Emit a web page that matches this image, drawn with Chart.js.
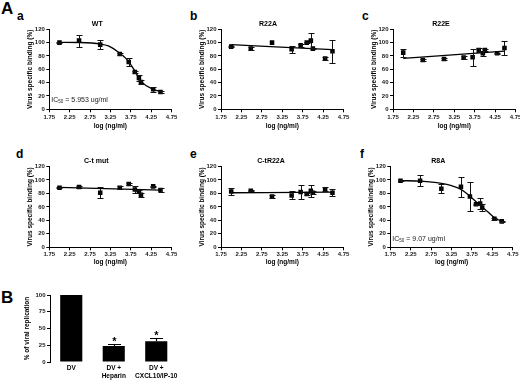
<!DOCTYPE html>
<html>
<head>
<meta charset="utf-8">
<title>Virus specific binding</title>
<script src="https://cdn.jsdelivr.net/npm/chart.js"></script>
<style>
	html, body { margin: 0; padding: 0; background: #fff; }
	body { position: relative; width: 520px; height: 381px; overflow: hidden; font-family: "Liberation Sans", Arial, sans-serif; }
	canvas { position: absolute; }
	.tag { position: absolute; font-weight: bold; line-height: 1; color: #000; }
</style>
</head>
<body>
<div class="tag" style="left:1px;top:0px;font-size:17px;">A</div>
<div class="tag" style="left:17px;top:10px;font-size:12px;">a</div>
<div class="tag" style="left:190px;top:10px;font-size:12px;">b</div>
<div class="tag" style="left:362px;top:10px;font-size:12px;">c</div>
<div class="tag" style="left:16px;top:148px;font-size:12px;">d</div>
<div class="tag" style="left:190px;top:148px;font-size:12px;">e</div>
<div class="tag" style="left:360px;top:148px;font-size:12px;">f</div>
<div class="tag" style="left:1px;top:289px;font-size:17px;">B</div>
<script>
var FONT = '"Liberation Sans", Arial, Helvetica, sans-serif';

// axes shared by the binding panels a-f
var logTicks = [1.75, 2.25, 2.75, 3.25, 3.75, 4.25, 4.75];
var bindingTicks = [0, 20, 40, 60, 80, 100, 120];
var logConc = [2.0, 2.48, 3.0, 3.48, 3.7, 3.85, 3.95, 4.0, 4.3, 4.48];

// a - WT
var wtBinding = [100, 103, 97, 83, 71, 56, 47, 41, 30, 26];
var wtSem     = [1, 9, 6.5, 1, 6.5, 1.5, 4, 3, 3.5, 1];
var wtFitX    = [2.0, 2.5, 3.0, 3.2, 3.48, 3.68, 3.86, 4.01, 4.3, 4.48];
var wtFitY    = [100.5, 100.2, 98, 95, 84, 73, 56.5, 41.5, 30, 26.5];
var wtIc50    = '5.953 ug/ml';

// b - R22A
var r22aBinding = [94, 91, 100, 90, 96, 100, 103, 91, 76, 87];
var r22aSem     = [1, 2, 0, 5, 2, 1, 11, 1, 2, 17];
var r22aFitX    = [2.0, 4.48];
var r22aFitY    = [97, 89.5];

// c - R22E
var r22eBinding = [85, 74, 75.5, 77.5, 78, 89, 84, 89, 84, 92];
var r22eSem     = [6, 1, 1, 2.5, 13, 2.5, 4, 1, 1, 10];
var r22eFitX    = [2.0, 4.48];
var r22eFitY    = [76.5, 87.3];

// d - C-t mut
var ctBinding = [88.5, 89.5, 81, 88.5, 94, 86, 82.5, 78, 90.5, 85];
var ctSem     = [1, 1, 8, 2, 1, 5, 2, 3, 1, 3];
var ctFitX    = [2.0, 4.48];
var ctFitY    = [89, 85];

// e - C-tR22A
var ctr22aBinding = [83, 84, 75.5, 77, 82, 79, 84, 81, 86, 81];
var ctr22aSem     = [5, 1, 2.5, 6, 11, 1.5, 9, 2, 3, 5];
var ctr22aFitX    = [2.0, 4.48];
var ctr22aFitY    = [81, 82];

// f - R8A
var r8aBinding = [99, 99, 87, 90, 75.5, 64, 65, 59, 42.5, 38.5];
var r8aSem     = [1, 8, 7, 15, 21, 1, 8, 5, 1.5, 1];
var r8aFitX    = [2.0, 2.5, 3.0, 3.25, 3.48, 3.7, 3.9, 4.15, 4.3, 4.48];
var r8aFitY    = [99, 98.3, 95, 91.5, 86, 76, 65, 52, 44, 38.5];
var r8aIc50    = '9.07 ug/ml';

// B - viral replication
var repCategories = ['DV', ['DV +', 'Heparin'], ['DV +', 'CXCL10/IP-10']];
var repValues = [100, 24, 31];
var repSem    = [0, 3.5, 5.5];
var repSignif = ['', '*', '*'];
var repTicks  = [0, 25, 50, 75, 100];


// error bars (and optional marks above them) read from dataset.errors
var errorBarsPlugin = {
	id: 'errorBars',
	afterDatasetsDraw: function(chart, args, opts){
		var ctx = chart.ctx;
		chart.data.datasets.forEach(function(ds, i){
			if( !ds.errors ){ return; }
			var meta = chart.getDatasetMeta(i);
			var yScale = chart.scales[meta.yAxisID];
			ctx.save();
			ctx.strokeStyle = opts.color;
			ctx.fillStyle = opts.color;
			ctx.lineWidth = opts.width;
			meta.data.forEach(function(el, j){
				var err = ds.errors[j];
				var raw = ds.data[j];
				var v = (typeof raw === 'object') ? raw.y : raw;
				var x = Math.round(el.x) + 0.5;
				var top = Math.round(yScale.getPixelForValue(v + err)) + 0.5;
				if( err ){
					var bot = opts.upperOnly ? yScale.getPixelForValue(v) : Math.round(yScale.getPixelForValue(v - err)) + 0.5;
					ctx.beginPath();
					ctx.moveTo(x, top); ctx.lineTo(x, bot);
					ctx.moveTo(x - opts.cap, top); ctx.lineTo(x + opts.cap, top);
					if( !opts.upperOnly ){
						ctx.moveTo(x - opts.cap, bot); ctx.lineTo(x + opts.cap, bot);
					}
					ctx.stroke();
				}
				if( ds.marks && ds.marks[j] ){
					ctx.font = opts.markFont;
					ctx.textAlign = 'center';
					ctx.textBaseline = 'alphabetic';
					ctx.fillText(ds.marks[j], x, top + opts.markDy);
				}
			});
			ctx.restore();
		});
	}
};

// panel title and the IC50 note
var panelNotesPlugin = {
	id: 'panelNotes',
	afterDraw: function(chart, args, opts){
		var ctx = chart.ctx, area = chart.chartArea;
		ctx.save();
		ctx.fillStyle = '#000';
		if( opts.title ){
			ctx.font = 'bold 7px ' + FONT;
			ctx.textAlign = 'center';
			ctx.textBaseline = 'middle';
			ctx.fillText(opts.title, area.left + opts.titleDx, area.top - opts.titleDy);
		}
		if( opts.ic50 ){
			var x = chart.scales.x.getPixelForValue(opts.ic50At[0]);
			var y = chart.scales.y.getPixelForValue(opts.ic50At[1]);
			ctx.fillStyle = '#222';
			ctx.textAlign = 'left';
			ctx.textBaseline = 'middle';
			ctx.font = '7px ' + FONT;
			ctx.fillText('IC', x, y);
			x += ctx.measureText('IC').width;
			ctx.font = '4.5px ' + FONT;
			ctx.fillText('50', x, y + 2);
			x += ctx.measureText('50').width;
			ctx.font = '7px ' + FONT;
			ctx.fillText(' = ' + opts.ic50, x, y);
		}
		ctx.restore();
	}
};


function boxAround(area, below){
	var left = Math.max(Math.floor(area.left - 52), 0);
	var top = Math.floor(area.top - 9);
	var right = Math.min(Math.ceil(area.right + 12), 520);
	var bottom = Math.min(Math.ceil(area.bottom + below), 381);
	return { left: left, top: top, width: right - left, height: bottom - top };
}

function addCanvas(box){
	var c = document.createElement('canvas');
	c.width = box.width;
	c.height = box.height;
	c.style.left = box.left + 'px';
	c.style.top = box.top + 'px';
	c.style.width = box.width + 'px';
	c.style.height = box.height + 'px';
	document.body.appendChild(c);
	return c;
}

function tickList(values){
	return function(scale){
		scale.ticks = values.map(function(v){ return { value: v }; });
	};
}


function init_binding_panel(area, p){

	if( typeof (Chart) === 'undefined'){ return; }

	var box = boxAround(area, 30);
	var canvas = addCanvas(box);
	var xHeight = box.top + box.height - area.bottom;
	var yWidth = area.left - box.left;

	var points = logConc.map(function(x, i){ return { x: x, y: p.binding[i] }; });
	var fit = p.fitX.map(function(x, i){ return { x: x, y: p.fitY[i] }; });

	new Chart(canvas, {
		type: 'scatter',
		data: {
			datasets: [{
				data: points,
				errors: p.sem,
				pointStyle: 'rect',
				pointRadius: 3.2,
				pointHoverRadius: 3.2,
				pointBackgroundColor: '#000',
				pointBorderWidth: 0,
				order: 0
			}, {
				data: fit,
				showLine: true,
				pointRadius: 0,
				pointHoverRadius: 0,
				borderColor: '#000',
				borderWidth: 1.3,
				cubicInterpolationMode: 'monotone',
				order: 1
			}]
		},
		options: {
			responsive: false,
			animation: false,
			events: [],
			layout: { padding: { left: 0, top: area.top - box.top, right: box.left + box.width - area.right, bottom: 0 } },
			plugins: {
				legend: { display: false },
				tooltip: { enabled: false },
				errorBars: { cap: 3, color: '#111', width: 1 },
				panelNotes: { title: p.title, titleDx: p.titleDx, titleDy: 5.5, ic50: p.ic50, ic50At: [1.8, p.ic50Y] }
			},
			scales: {
				x: {
					type: 'linear',
					min: 1.75,
					max: 4.75,
					afterBuildTicks: tickList(logTicks),
					afterFit: function(s){
						s.height = xHeight;
						s.paddingLeft = 0; s.paddingRight = 0; s.paddingTop = 0; s.paddingBottom = 0;
					},
					border: { display: true, color: '#000', width: 1 },
					grid: { drawOnChartArea: false, drawTicks: true, tickLength: 3, tickColor: '#000', tickWidth: 1 },
					ticks: {
						autoSkip: false, maxRotation: 0, padding: p.tickPad, color: '#1a1a1a',
						font: { family: FONT, size: 6, weight: 'bold' },
						callback: function(v){ return Number(v).toFixed(2); }
					},
					title: {
						display: true, text: 'log (ng/ml)', color: '#000',
						font: { family: FONT, size: 6.5, weight: 'bold' },
						padding: { top: 0, bottom: xHeight - p.xTitleGap - 3.9 }
					}
				},
				y: {
					type: 'linear',
					min: 0,
					max: 120,
					afterBuildTicks: tickList(bindingTicks),
					afterFit: function(s){
						s.width = yWidth;
						s.paddingLeft = 0; s.paddingRight = 0; s.paddingTop = 0; s.paddingBottom = 0;
					},
					border: { display: true, color: '#000', width: 1 },
					grid: { drawOnChartArea: false, drawTicks: true, tickLength: 3, tickColor: '#000', tickWidth: 1 },
					ticks: { padding: 1.5, color: '#1a1a1a', font: { family: FONT, size: 6, weight: 'bold' } },
					title: {
						display: true, text: 'Virus specific binding (%)', color: '#000',
						font: { family: FONT, size: 6.5, weight: 'bold' },
						padding: { top: yWidth - 19 - 3.9, bottom: 0 }
					}
				}
			}
		},
		plugins: [errorBarsPlugin, panelNotesPlugin]
	});
}


function init_replication_chart(area){

	if( typeof (Chart) === 'undefined'){ return; }

	var box = boxAround(area, 19);
	var canvas = addCanvas(box);
	var xHeight = box.top + box.height - area.bottom;
	var yWidth = area.left - box.left;

	new Chart(canvas, {
		type: 'bar',
		data: {
			labels: repCategories,
			datasets: [{
				data: repValues,
				errors: repSem,
				marks: repSignif,
				backgroundColor: '#000',
				borderWidth: 0,
				barPercentage: 0.52,
				categoryPercentage: 1
			}]
		},
		options: {
			responsive: false,
			animation: false,
			events: [],
			layout: { padding: { left: 0, top: area.top - box.top, right: box.left + box.width - area.right, bottom: 0 } },
			plugins: {
				legend: { display: false },
				tooltip: { enabled: false },
				errorBars: { cap: 6.5, upperOnly: true, color: '#000', width: 1.2, markFont: 'bold 11px ' + FONT, markDy: 0 }
			},
			scales: {
				x: {
					afterFit: function(s){
						s.height = xHeight;
						s.paddingLeft = 0; s.paddingRight = 0; s.paddingTop = 0; s.paddingBottom = 0;
					},
					border: { display: false },
					grid: { display: false, drawTicks: false, tickLength: 0 },
					ticks: {
						autoSkip: false, maxRotation: 0, padding: 2, color: '#000',
						font: { family: FONT, size: 6.5, weight: 'bold', lineHeight: 1.25 }
					}
				},
				y: {
					min: 0,
					max: 100,
					afterBuildTicks: tickList(repTicks),
					afterFit: function(s){
						s.width = yWidth;
						s.paddingLeft = 0; s.paddingRight = 0; s.paddingTop = 0; s.paddingBottom = 0;
					},
					border: { display: true, color: '#000', width: 1 },
					grid: { drawOnChartArea: false, drawTicks: true, tickLength: 3, tickColor: '#000', tickWidth: 1 },
					ticks: { padding: 1.5, color: '#1a1a1a', font: { family: FONT, size: 6, weight: 'bold' } },
					title: {
						display: true, text: '% of viral replication', color: '#000',
						font: { family: FONT, size: 6.5, weight: 'bold' },
						padding: { top: yWidth - 23 - 3.9, bottom: 0 }
					}
				}
			}
		},
		plugins: [errorBarsPlugin]
	});
}


init_binding_panel({ left: 49.3, top: 29.3, right: 171.5, bottom: 109.3 }, {
	title: 'WT', titleDx: 48, binding: wtBinding, sem: wtSem, fitX: wtFitX, fitY: wtFitY,
	ic50: wtIc50, ic50Y: 14, tickPad: 1, xTitleGap: 16.5
});
init_binding_panel({ left: 221, top: 29.3, right: 343.5, bottom: 109.3 }, {
	title: 'R22A', titleDx: 47, binding: r22aBinding, sem: r22aSem, fitX: r22aFitX, fitY: r22aFitY,
	tickPad: 1, xTitleGap: 16.5
});
init_binding_panel({ left: 393, top: 29.3, right: 515.5, bottom: 109.3 }, {
	title: 'R22E', titleDx: 48, binding: r22eBinding, sem: r22eSem, fitX: r22eFitX, fitY: r22eFitY,
	tickPad: 1, xTitleGap: 16.5
});
init_binding_panel({ left: 49.3, top: 166.5, right: 171.5, bottom: 247.3 }, {
	title: 'C-t mut', titleDx: 47, binding: ctBinding, sem: ctSem, fitX: ctFitX, fitY: ctFitY,
	tickPad: 0, xTitleGap: 14.5
});
init_binding_panel({ left: 221, top: 166.5, right: 343.5, bottom: 247.3 }, {
	title: 'C-tR22A', titleDx: 50, binding: ctr22aBinding, sem: ctr22aSem, fitX: ctr22aFitX, fitY: ctr22aFitY,
	tickPad: 0, xTitleGap: 14.5
});
init_binding_panel({ left: 390.3, top: 166.5, right: 512.8, bottom: 247.3 }, {
	title: 'R8A', titleDx: 48, binding: r8aBinding, sem: r8aSem, fitX: r8aFitX, fitY: r8aFitY,
	ic50: r8aIc50, ic50Y: 12, tickPad: 0, xTitleGap: 14.5
});
init_replication_chart({ left: 50, top: 295, right: 177.5, bottom: 362 });
</script>
</body>
</html>
